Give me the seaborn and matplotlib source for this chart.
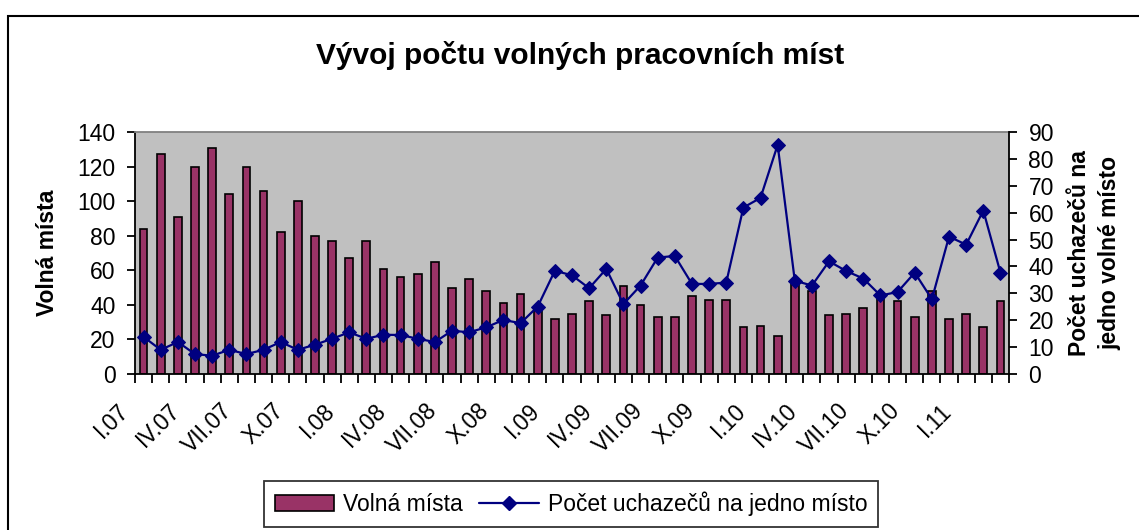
import numpy as np
import pandas as pd
import matplotlib
matplotlib.use("Agg")
import matplotlib.pyplot as plt
import matplotlib.patches as mpatches
import matplotlib.lines as mlines
from matplotlib.transforms import ScaledTranslation
import seaborn as sns

sns.set_style("white")
plt.rcParams["font.family"] = ["Liberation Sans", "DejaVu Sans"]
plt.rcParams.update({
    "text.color": "black",
    "axes.labelcolor": "black",
    "xtick.color": "black",
    "ytick.color": "black",
})

# ── Data ──────────────────────────────────────────────────────────────────────
ROMAN = ["I", "II", "III", "IV", "V", "VI", "VII", "VIII", "IX", "X", "XI", "XII"]
YEARS = ["07", "08", "09", "10", "11"]
months = [f"{m}.{y}" for y in YEARS for m in ROMAN][:51]

volna_mista = [84, 127, 91, 120, 131, 104, 120, 106, 82, 100, 80, 77,
               67, 77, 61, 56, 58, 65, 50, 55, 48, 41, 46, 39,
               32, 35, 42, 34, 51, 40, 33, 33, 45, 43, 43,
               27, 28, 22, 52, 48, 34, 35, 38, 45, 42, 33, 48,
               32, 35, 27, 42]

uchazecu = [13.8, 9.0, 11.9, 7.4, 6.8, 9.0, 7.4, 9.0, 11.9, 9.0, 10.9, 13.1,
            15.5, 13.1, 14.6, 14.5, 13.1, 11.9, 16.1, 15.5, 17.4, 20.1, 18.9, 25.1,
            38.4, 36.7, 31.9, 39.1, 26.0, 32.9, 43.3, 43.9, 33.5, 33.5, 34.0,
            61.9, 65.5, 85.2, 34.7, 32.9, 41.9, 38.3, 35.5, 29.2, 30.5, 37.7, 27.8,
            51.1, 48.1, 60.8, 37.7]

df = pd.DataFrame({"mesic": months, "volna": volna_mista, "pocet": uchazecu})
n = len(df)

BAR_COLOR = "#993366"
LINE_COLOR = "#000080"
FS = 16.5

# ── Figure ────────────────────────────────────────────────────────────────────
fig = plt.figure(figsize=(11.39, 5.30), dpi=100)
ax = fig.add_axes([135 / 1139, 156 / 530, 874 / 1139, 242 / 530])
ax.set_facecolor("#C0C0C0")

sns.barplot(data=df, x="mesic", y="volna", ax=ax, color=BAR_COLOR, saturation=1,
            edgecolor="black", linewidth=1.2, width=0.45, zorder=2)

ax2 = ax.twinx()
sns.lineplot(x=np.arange(n), y=df["pocet"].values, ax=ax2, color=LINE_COLOR,
             marker="D", markersize=7, markeredgecolor=LINE_COLOR,
             linewidth=1.6, zorder=3)

ax.set_xlim(-0.5, n - 0.5)
ax.set_ylim(0, 140)
ax2.set_ylim(0, 90)
ax.set_yticks(np.arange(0, 141, 20))
ax2.set_yticks(np.arange(0, 91, 10))
ax.set_xlabel("")
ax.set_ylabel("")
ax2.set_ylabel("")

# x ticks: marks on category boundaries, labels every quarter
ax.set_xticks(np.arange(-0.5, n, 1.0))
ax.set_xticklabels([])
ax.set_xticks(np.arange(0, n, 3), minor=True)
ax.set_xticklabels([months[i] for i in range(0, n, 3)], minor=True,
                   rotation=45, ha="right", va="top", fontsize=FS)
ax.tick_params(axis="x", which="major", direction="out", length=6.5, width=1.3,
               color="black", bottom=True)
ax.tick_params(axis="x", which="minor", length=0, pad=18)
ax.tick_params(axis="y", direction="out", length=6, width=1.3, labelsize=FS,
               pad=8, color="black", left=True)
ax2.tick_params(axis="y", direction="out", length=6, width=1.3, labelsize=FS,
                pad=8, color="black", right=True)
shift = ScaledTranslation(-10 / 100, 0, fig.dpi_scale_trans)
for lab in ax.get_xticklabels(minor=True):
    lab.set_transform(lab.get_transform() + shift)

ax.grid(False)
ax2.grid(False)
for side in ["left", "bottom"]:
    ax.spines[side].set_color("black")
    ax.spines[side].set_linewidth(1.3)
ax.spines["top"].set_color("#808080")
ax.spines["top"].set_linewidth(1.3)
ax.spines["right"].set_visible(False)
for side in ["left", "bottom", "top"]:
    ax2.spines[side].set_visible(False)
ax2.spines["right"].set_color("black")
ax2.spines["right"].set_linewidth(1.3)

# ── Texts ─────────────────────────────────────────────────────────────────────
fig.text(580 / 1139, 1 - 55 / 530, "Vývoj počtu volných pracovních míst",
         ha="center", va="center", fontsize=21.5, fontweight="bold")
fig.text(47 / 1139, 1 - 253 / 530, "Volná místa", rotation=90,
         ha="center", va="center", fontsize=FS, fontweight="bold")
fig.text(1095 / 1139, 1 - 253 / 530, "Počet uchazečů na\njedno volné místo",
         rotation=90, ha="center", va="center", multialignment="center",
         fontsize=FS, fontweight="bold", linespacing=1.4)

# ── Legend ────────────────────────────────────────────────────────────────────
h_bar = mpatches.Patch(facecolor=BAR_COLOR, edgecolor="black", linewidth=1.2)
h_line = mlines.Line2D([], [], color=LINE_COLOR, marker="D", markersize=7,
                       linewidth=1.6)
leg = fig.legend([h_bar, h_line], ["Volná místa", "Počet uchazečů na jedno místo"],
                 loc="center", bbox_to_anchor=(571 / 1139, 1 - 504 / 530),
                 ncol=2, fontsize=FS, frameon=True, fancybox=False,
                 handlelength=2.6, handletextpad=0.4, columnspacing=0.7,
                 borderpad=0.45, borderaxespad=0)
leg.get_frame().set_edgecolor("black")
leg.get_frame().set_linewidth(1.3)

# outer chart border (right and bottom edges lie outside the picture)
fig.add_artist(mpatches.Rectangle((8 / 1139, -0.05), 1.5, 0.05 + 1 - 16 / 530,
                                  transform=fig.transFigure, fill=False,
                                  edgecolor="black", linewidth=1.5))

fig.savefig("out.png", dpi=100)
